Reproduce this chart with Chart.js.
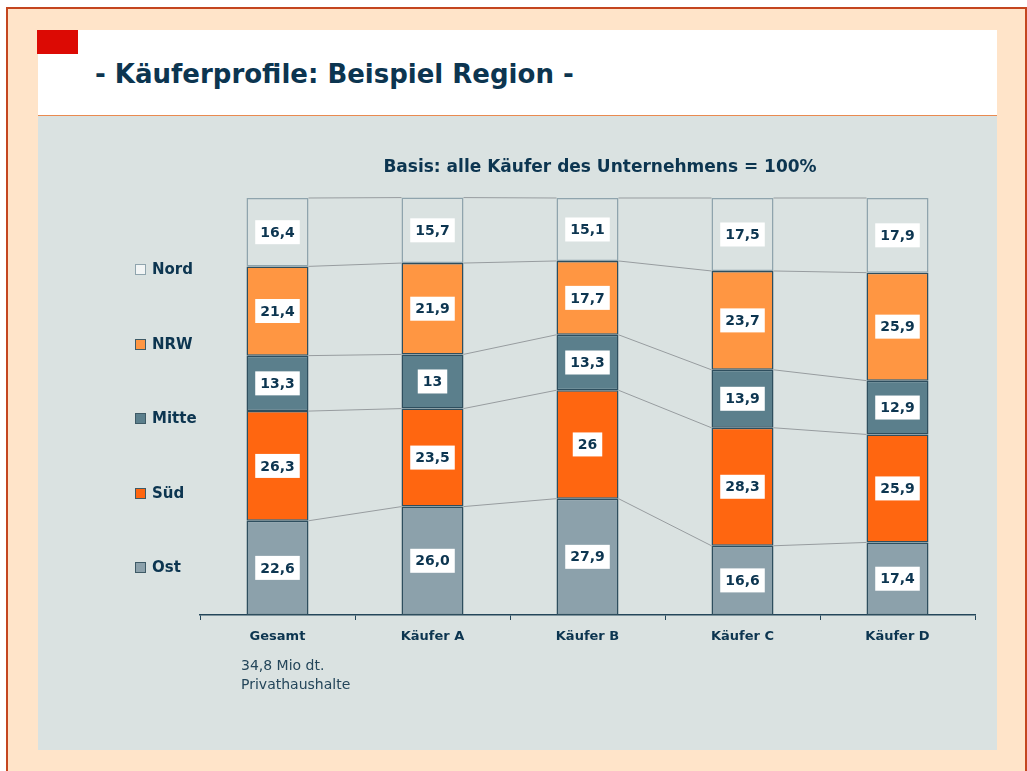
<!DOCTYPE html>
<html>
<head>
<meta charset="utf-8">
<script src="https://cdn.jsdelivr.net/npm/chart.js@4.4.1/dist/chart.umd.min.js"></script>
<style>
  body { margin: 0; background: #fff; font-family: "DejaVu Sans", sans-serif; }
  #frame { position: absolute; left: 6px; top: 7px; width: 1017px; height: 800px;
           background: #FFE4C9; border: 2px solid #C4461F; }
  #header { position: absolute; left: 38px; top: 30px; width: 959px; height: 85px;
            background: #fff; border-bottom: 1px solid #E98A50; }
  #redbox { position: absolute; left: 37px; top: 30px; width: 41px; height: 24px; background: #DC0A04; }
  #title { position: absolute; left: 95px; top: 59px; font: bold 26px "DejaVu Sans", sans-serif;
           color: #0C3550; white-space: nowrap; }
  #panel { position: absolute; left: 38px; top: 116px; width: 959px; height: 634px; background: #DAE2E1; }
  #note { position: absolute; left: 241px; top: 656px; font: 14px "DejaVu Sans", sans-serif;
          color: #24465A; line-height: 19px; }
</style>
</head>
<body>
<div id="frame"></div>
<div id="header"></div>
<div id="redbox"></div>
<div id="title">- Käuferprofile: Beispiel Region -</div>
<div id="panel"><canvas id="chart" width="959" height="634"></canvas></div>
<div id="note">34,8 Mio dt.<br>Privathaushalte</div>
<script>
const categories = ['Gesamt', 'Käufer A', 'Käufer B', 'Käufer C', 'Käufer D'];
const ost   = ['22,6', '26,0', '27,9', '16,6', '17,4'];
const sued  = ['26,3', '23,5', '26',   '28,3', '25,9'];
const mitte = ['13,3', '13',   '13,3', '13,9', '12,9'];
const nrw   = ['21,4', '21,9', '17,7', '23,7', '25,9'];
const nord  = ['16,4', '15,7', '15,1', '17,5', '17,9'];
const subtitle = 'Basis: alle Käufer des Unternehmens = 100%';

const toNum = s => parseFloat(s.replace(',', '.'));
const textColor = '#0C3550';

const series = [
  { label: 'Ost',   text: ost,   fill: '#8CA1AB', border: '#2E4E5E' },
  { label: 'Süd',   text: sued,  fill: '#FF6610', border: '#2E4E5E' },
  { label: 'Mitte', text: mitte, fill: '#5B7F8C', border: '#2E4E5E' },
  { label: 'NRW',   text: nrw,   fill: '#FF9642', border: '#2E4E5E' },
  { label: 'Nord',  text: nord,  fill: '#DAE2E1', border: '#8FA4AD' }
];

const extras = {
  id: 'extras',
  afterDatasetsDraw(chart) {
    const ctx = chart.ctx;
    const metas = chart.data.datasets.map((d, i) => chart.getDatasetMeta(i));
    // connecting lines between segment boundaries
    ctx.save();
    ctx.strokeStyle = '#979C9F';
    ctx.lineWidth = 1;
    metas.forEach(meta => {
      for (let i = 0; i < meta.data.length - 1; i++) {
        const a = meta.data[i], b = meta.data[i + 1];
        ctx.beginPath();
        ctx.moveTo(a.x + a.width / 2, a.y);
        ctx.lineTo(b.x - b.width / 2, b.y);
        ctx.stroke();
      }
    });
    // value labels
    ctx.font = 'bold 14px "DejaVu Sans", sans-serif';
    ctx.textAlign = 'center';
    ctx.textBaseline = 'middle';
    metas.forEach((meta, di) => {
      meta.data.forEach((bar, i) => {
        const t = series[di].text[i];
        const cy = (bar.y + bar.base) / 2;
        const w = ctx.measureText(t).width + 10;
        ctx.fillStyle = '#fff';
        ctx.fillRect(bar.x - w / 2, cy - 12, w, 24);
        ctx.fillStyle = textColor;
        ctx.fillText(t, bar.x, cy + 1);
      });
    });
    // subtitle
    ctx.font = 'bold 17px "DejaVu Sans", sans-serif';
    ctx.fillText(subtitle, 562, 52);
    // legend
    const rows = [153, 228, 302, 377, 451];
    ctx.textAlign = 'left';
    ctx.font = 'bold 15px "DejaVu Sans", sans-serif';
    series.slice().reverse().forEach((s, k) => {
      const y = rows[k];
      ctx.fillStyle = s.label === 'Nord' ? '#F2F5F5' : s.fill;
      ctx.fillRect(97, y - 5, 11, 11);
      ctx.strokeStyle = s.label === 'Nord' ? '#8FA4AD' : '#3E5A66';
      ctx.strokeRect(97.5, y - 4.5, 10, 10);
      ctx.fillStyle = textColor;
      ctx.fillText(s.label, 114, y + 1);
    });
    ctx.restore();
  }
};

new Chart(document.getElementById('chart'), {
  type: 'bar',
  data: {
    labels: categories,
    datasets: series.map(s => ({
      label: s.label,
      data: s.text.map(toNum),
      backgroundColor: s.fill,
      borderColor: s.border,
      borderWidth: 1.5,
      borderSkipped: false,
      categoryPercentage: 1,
      barPercentage: 0.4
    }))
  },
  options: {
    responsive: false,
    animation: false,
    events: [],
    layout: { padding: { left: 162, right: 22, top: 82, bottom: 95 } },
    plugins: { legend: { display: false }, title: { display: false }, tooltip: { enabled: false } },
    scales: {
      x: {
        stacked: true,
        afterFit: s => { s.height = 40; },
        border: { color: '#24465A', width: 1.5 },
        grid: { drawOnChartArea: false, tickLength: 5, color: '#24465A', offset: true },
        ticks: { color: textColor, padding: 9, font: { family: 'DejaVu Sans', weight: 'bold', size: 13 } }
      },
      y: { stacked: true, display: false, min: 0, max: 100 }
    },
    datasets: { bar: { clip: false } }
  },
  plugins: [extras]
});
</script>
</body>
</html>
